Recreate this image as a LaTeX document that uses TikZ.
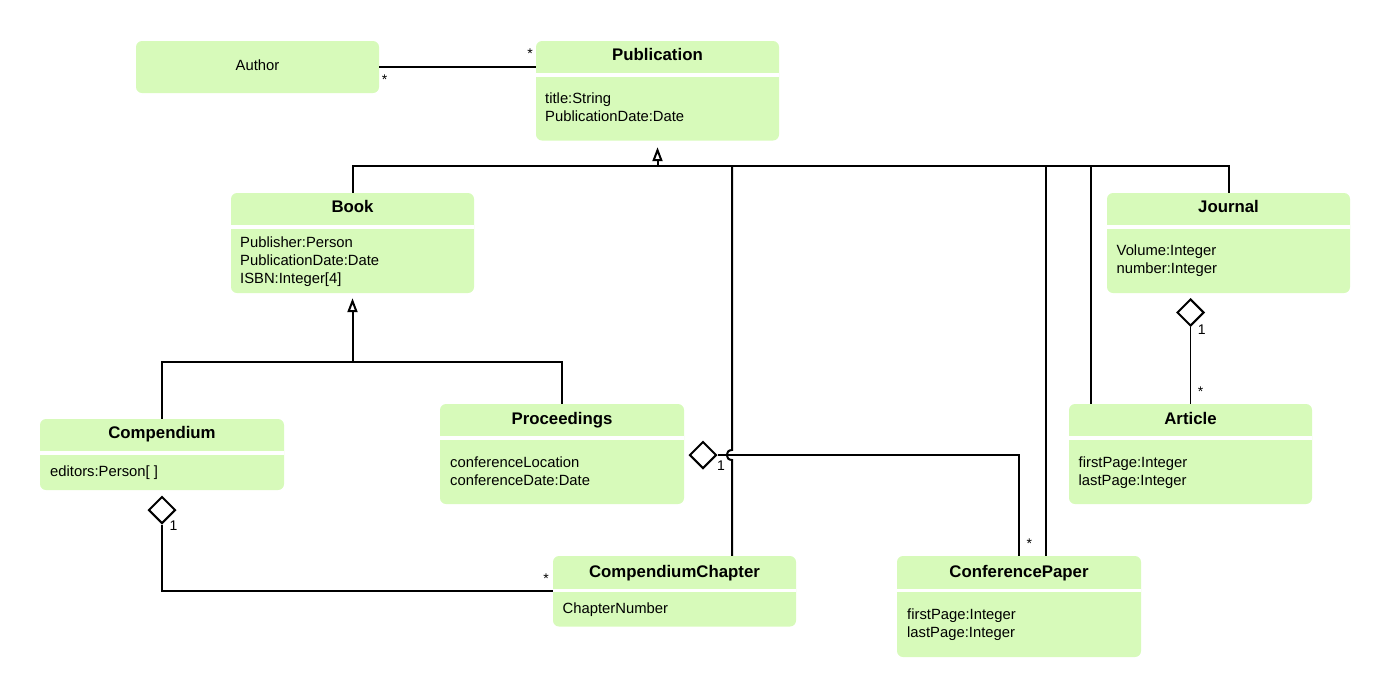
\documentclass[tikz,border=0pt]{standalone}
\usepackage{fontspec}
\setmainfont{Liberation Sans}
\usetikzlibrary{shapes.geometric,arrows.meta,fit,calc}
\definecolor{umlgreen}{RGB}{215,250,186}
\begin{document}
\begin{tikzpicture}[x=1pt,y=-1pt,
  cls/.style={fill=umlgreen, rounded corners=6pt, inner sep=0pt, draw=none},
  sep/.style={fill=white},
  ttl/.style={font=\fontsize{16.8}{20}\selectfont\bfseries, inner sep=0pt, anchor=base},
  attr/.style={font=\fontsize{14.8}{18}\selectfont, inner sep=0pt, anchor=base west},
  plain/.style={font=\fontsize{14.8}{18}\selectfont, inner sep=0pt, anchor=base},
  lbl/.style={font=\fontsize{14}{16}\selectfont, inner sep=0pt},
  conn/.style={line width=2pt, draw=black},
  thinconn/.style={line width=1.2pt, draw=black},
  agg/.style={diamond, draw=black, fill=white, line width=2pt, minimum width=27pt, minimum height=27pt, inner sep=0pt},
  gen/.style={line width=2pt, -{Triangle[open,width=10pt,length=14pt,line width=2pt]}},
]
\useasboundingbox (0,0) rectangle (1390,697);

% ---------- class boxes ----------
\node[cls, fit={(136,41) (379,93)}] (author) {};
\node[plain] (authorT) at (257.5,70.3) {Author};

\node[cls, fit={(536,41) (779,140.5)}] (pub) {};
\fill[sep] (536,73) rectangle (779,76.5);
\node[ttl] (pubT) at (657.5,60) {Publication};
\node[attr] (pubA1) at (545,103.3) {title:String};
\node[attr] (pubA2) at (545,121.3) {PublicationDate:Date};

\node[cls, fit={(231,193) (474,293)}] (book) {};
\fill[sep] (231,225) rectangle (474,228.5);
\node[ttl] (bookT) at (352.5,212.7) {Book};
\node[attr] (bookA1) at (240,247.3) {Publisher:Person};
\node[attr] (bookA2) at (240,265.3) {PublicationDate:Date};
\node[attr] (bookA3) at (240,283.3) {ISBN:Integer[4]};

\node[cls, fit={(1107,193) (1350,293)}] (journal) {};
\fill[sep] (1107,225) rectangle (1350,228.5);
\node[ttl] (journalT) at (1228.5,212.7) {Journal};
\node[attr] (journalA1) at (1116.5,255.3) {Volume:Integer};
\node[attr] (journalA2) at (1116.5,273.3) {number:Integer};

\node[cls, fit={(40,419) (284,490)}] (compendium) {};
\fill[sep] (40,451) rectangle (284,454.5);
\node[ttl] (compendiumT) at (162,438) {Compendium};
\node[attr] (compendiumA1) at (50,476.3) {editors:Person[ ]};

\node[cls, fit={(440,404) (684,504)}] (proceedings) {};
\fill[sep] (440,436) rectangle (684,439.5);
\node[ttl] (proceedingsT) at (562,424) {Proceedings};
\node[attr] (proceedingsA1) at (450,467.3) {conferenceLocation};
\node[attr] (proceedingsA2) at (450,485.3) {conferenceDate:Date};

\node[cls, fit={(1069,404) (1312,504)}] (article) {};
\fill[sep] (1069,436) rectangle (1312,439.5);
\node[ttl] (articleT) at (1190.5,424) {Article};
\node[attr] (articleA1) at (1078.5,467.3) {firstPage:Integer};
\node[attr] (articleA2) at (1078.5,485.3) {lastPage:Integer};

\node[cls, fit={(553,556) (796,626.5)}] (chapter) {};
\fill[sep] (553,588.5) rectangle (796,592);
\node[ttl] (chapterT) at (674.5,577) {CompendiumChapter};
\node[attr] (chapterA1) at (562.5,613.3) {ChapterNumber};

\node[cls, fit={(897,556) (1141,657)}] (confpaper) {};
\fill[sep] (897,588.5) rectangle (1141,592);
\node[ttl] (confpaperT) at (1019,577) {ConferencePaper};
\node[attr] (confpaperA1) at (907,619.3) {firstPage:Integer};
\node[attr] (confpaperA2) at (907,637.3) {lastPage:Integer};

% ---------- helper coordinates ----------
\coordinate (bus) at (657.5,166);
\coordinate (pubtip) at ($(pub.south)+(0,6.5)$);
\coordinate (bookbus) at (352.5,362);
\coordinate (booktip) at ($(book.south)+(0,5)$);
\coordinate (xCh) at (732,0);
\coordinate (xCp) at (1046,0);
\coordinate (xAr) at (1091,0);
\coordinate (xAg) at (1019,0);

% ---------- aggregation diamonds ----------
\node[agg] (dj) at (1190.5,312.5) {};
\node[agg] (dc) at (162,510) {};
\node[agg] (dp) at (703,455) {};

% ---------- association ----------
\draw[conn] (author.east) -- (author.east -| pub.west);

% ---------- generalisation to Publication ----------
\draw[conn] (book.north) |- (journal.north |- bus) -- (journal.north);
\draw[gen] (bus) -- (pubtip);
\draw[conn] (xCh |- bus) -- ($(xCh |- dp.east)+(0,-5)$)
  .. controls ($(xCh |- dp.east)+(-7,-5)$) and ($(xCh |- dp.east)+(-7,5)$) .. ($(xCh |- dp.east)+(0,5)$)
  -- (chapter.north -| xCh);
\draw[conn] (xCp |- bus) -- (confpaper.north -| xCp);
\draw[conn] (xAr |- bus) -- (article.north -| xAr);

% ---------- generalisation to Book ----------
\draw[conn] (compendium.north) |- (proceedings.north |- bookbus) -- (proceedings.north);
\draw[gen] (bookbus) -- (booktip);

% ---------- aggregations ----------
\draw[thinconn] (dj.south) -- (article.north);
\draw[conn] (dc.south) |- (chapter.west);
\draw[conn] (dp.east) -| (confpaper.north -| xAg);

% ---------- multiplicities ----------
\node[lbl] (m1) at (384.5,79.5) {*};
\node[lbl] (m2) at (530,53.5) {*};
\node[lbl] (m3) at (1201.7,330) {1};
\node[lbl] (m4) at (1200.7,391.5) {*};
\node[lbl] (m5) at (173.6,525.7) {1};
\node[lbl] (m6) at (546,578.5) {*};
\node[lbl] (m7) at (721,466) {1};
\node[lbl] (m8) at (1029.3,544) {*};
\end{tikzpicture}
\end{document}
